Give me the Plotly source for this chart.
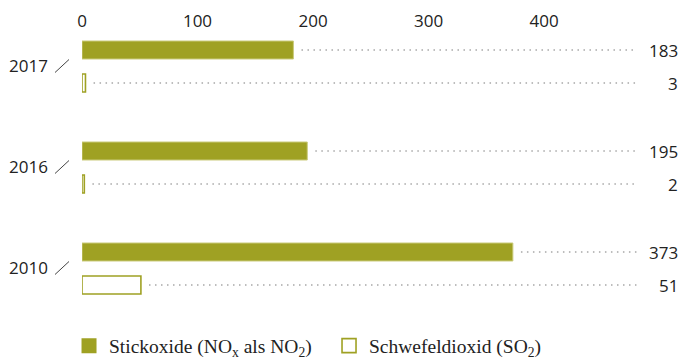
import plotly.graph_objects as go

years = ["2017", "2016", "2010"]
nox = [183, 195, 373]
so2 = [3, 2, 51]
x_ticks = [0, 100, 200, 300, 400]

OLIVE = "#9fa123"
DOT = "#a8a8a8"
TXT = "#222222"
SANS = "Open Sans"
SERIF = "Liberation Serif"

X_MAX = 517.7
LEADER_END = 480
GAP = 7
OFF = 0.1634
BW = 0.178

fig = go.Figure()

y_nox = [i - OFF for i in range(len(years))]
y_so2 = [i + OFF for i in range(len(years))]

fig.add_trace(go.Bar(y=y_nox, x=nox, orientation="h", width=BW,
                     marker=dict(color=OLIVE, line=dict(color="#c9ca7a", width=1)),
                     showlegend=False, hoverinfo="skip"))
fig.add_trace(go.Bar(y=y_so2, x=so2, orientation="h", width=BW,
                     marker=dict(color="white", line=dict(color=OLIVE, width=1.6)),
                     showlegend=False, hoverinfo="skip"))

for vals, ys in ((nox, y_nox), (so2, y_so2)):
    for v, yy in zip(vals, ys):
        fig.add_trace(go.Scatter(x=[v + GAP, LEADER_END], y=[yy, yy], mode="lines",
                                 line=dict(color=DOT, width=1.5, dash="1.5px,4.5px"),
                                 showlegend=False, hoverinfo="skip"))
        fig.add_annotation(x=1, xref="paper", y=yy, yref="y", text=str(v),
                           xanchor="right", yanchor="middle", showarrow=False,
                           font=dict(family=SANS, size=17, color=TXT))

# decorative slash after each year label
for i in range(len(years)):
    fig.add_shape(type="line", xref="paper", xsizemode="pixel", xanchor=0, x0=-27, x1=-13,
                  yref="y", ysizemode="pixel", yanchor=i, y0=-6, y1=7,
                  line=dict(color="#444444", width=1))

fig.add_trace(go.Scatter(x=[None], y=[None], mode="markers", name="Stickoxide (NO<sub>x</sub> als NO<sub>2</sub>)",
                         marker=dict(symbol="square", size=15, color=OLIVE, line=dict(width=0))))
fig.add_trace(go.Scatter(x=[None], y=[None], mode="markers", name="Schwefeldioxid (SO<sub>2</sub>)",
                         marker=dict(symbol="square", size=14, color="white", line=dict(color=OLIVE, width=1.6))))

fig.update_layout(
    width=681, height=358,
    margin=dict(l=82, r=1, t=36, b=39, autoexpand=False),
    paper_bgcolor="white", plot_bgcolor="white",
    barmode="overlay",
    xaxis=dict(side="top", range=[0, X_MAX], tickvals=x_ticks, showgrid=False,
               zeroline=False, showline=False, ticks="", ticklabelstandoff=5,
               tickfont=dict(family=SANS, size=17, color=TXT)),
    yaxis=dict(range=[2.5, -0.302], tickvals=list(range(len(years))),
               ticktext=years, showgrid=False, zeroline=False,
               showline=False, ticks="", ticklabelstandoff=33,
               tickfont=dict(family=SANS, size=17, color=TXT)),
    legend=dict(orientation="h", x=-0.0217, xanchor="left", xref="paper", y=-0.0265, yanchor="top",
                font=dict(family=SERIF, size=19.5, color=TXT), entrywidth=215,
                itemsizing="trace", bgcolor="rgba(0,0,0,0)"),
)

fig.write_html("out.html", config={"displayModeBar": False},
               post_script="document.body.style.margin='0';document.body.style.overflow='hidden';")
